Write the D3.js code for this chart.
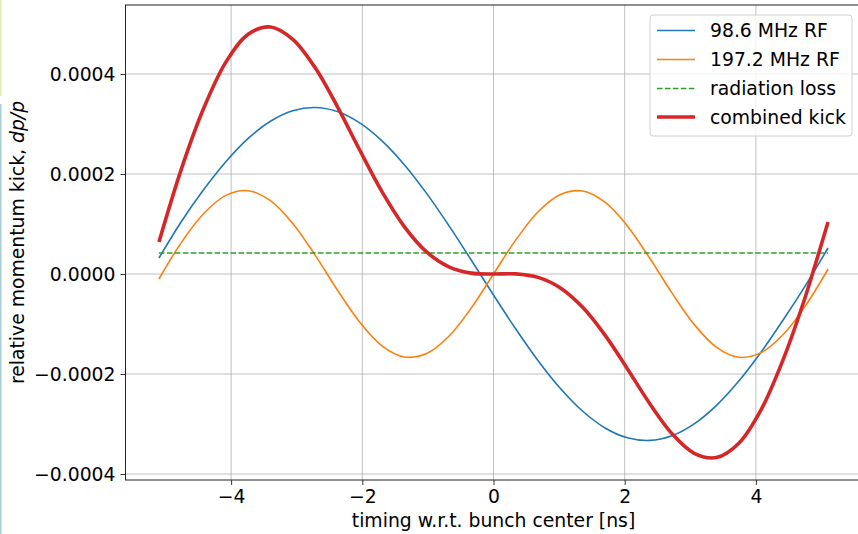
<!DOCTYPE html>
<html><head><meta charset="utf-8">
<script src="https://cdn.jsdelivr.net/npm/d3@7"></script>
<style>body{margin:0;background:#fff}svg{display:block}text{font-family:"DejaVu Sans",sans-serif}</style>
</head><body>
<svg id="c" width="858" height="534"></svg>
<script>
// timing (ns)
const timing = [-5.10,-4.76,-4.42,-4.08,-3.74,-3.40,-3.06,-2.72,-2.38,-2.04,-1.70,-1.36,-1.02,-0.68,-0.34,0.00,0.34,0.68,1.02,1.36,1.70,2.04,2.38,2.72,3.06,3.40,3.74,4.08,4.42,4.76,5.10];
// values in units of 1e-6
const rf98 = [32.0,104.5,168.3,224.5,271.1,305.5,326.4,333.0,324.8,302.2,266.3,218.7,161.3,96.8,28.1,-42.0,-110.1,-173.4,-229.0,-274.5,-307.9,-327.6,-332.8,-323.4,-299.6,-262.6,-214.1,-156.0,-91.1,-22.1,52.0];
const rf197 = [-10.0,62.8,120.6,157.3,166.5,146.6,101.0,37.8,-32.0,-96.2,-143.6,-165.9,-159.2,-124.6,-68.3,0.0,68.3,124.6,159.2,165.9,143.6,96.2,32.0,-37.8,-101.0,-146.6,-166.5,-157.3,-120.6,-62.8,10.0];
const radLoss = [42,42];
const radT = [-5.10,5.10];
const combined = [64.0,209.3,330.9,423.8,479.6,494.1,469.4,412.8,334.8,248.0,164.7,94.8,44.1,14.2,1.8,0.0,0.2,-6.8,-27.8,-66.6,-122.3,-189.4,-258.8,-319.2,-358.6,-367.2,-338.6,-271.3,-169.7,-42.9,104.0];
const xTicks = [-4,-2,0,2,4];
const yTicks = [-0.0004,-0.0002,0.0000,0.0002,0.0004];
const yTickLabels = ["\u22120.0004","\u22120.0002","0.0000","0.0002","0.0004"];
const seriesNames = ["98.6 MHz RF","197.2 MHz RF","radiation loss","combined kick"];
const colors = ["#1f77b4","#ff7f0e","#2ca02c","#d62728"];

const svg = d3.select("#c");
const L=125.5, R=861.5, T=5, B=480;
const FS = "18.8px";
const x = d3.scaleLinear().domain([-5.61,5.61]).range([L,R]);
const y = d3.scaleLinear().domain([-0.000412,0.000538]).range([B,T]);

// left-edge artifacts
svg.append("rect").attr("x",0).attr("y",0).attr("width",1.5).attr("height",96).attr("fill","#dcecb4");
svg.append("rect").attr("x",0).attr("y",104).attr("width",1.5).attr("height",430).attr("fill","#a9cdd1");

// grid
const g = svg.append("g");
g.selectAll(".gx").data(xTicks).join("line").attr("x1",d=>x(d)).attr("x2",d=>x(d)).attr("y1",T).attr("y2",B).attr("stroke","#b0b0b0").attr("stroke-width",0.8);
g.selectAll(".gy").data(yTicks).join("line").attr("y1",d=>y(d)).attr("y2",d=>y(d)).attr("x1",L).attr("x2",R).attr("stroke","#b0b0b0").attr("stroke-width",0.8);

const pts = arr => arr.map((v,i)=>[timing[i], v*1e-6]);
const line = d3.line().x(d=>x(d[0])).y(d=>y(d[1])).curve(d3.curveCatmullRom.alpha(0.5));
const plot = svg.append("g");
plot.append("path").attr("d",line(pts(rf98))).attr("fill","none").attr("stroke",colors[0]).attr("stroke-width",1.6);
plot.append("path").attr("d",line(pts(rf197))).attr("fill","none").attr("stroke",colors[1]).attr("stroke-width",1.6);
plot.append("path").attr("d",d3.line().x(d=>x(d[0])).y(d=>y(d[1]))(radT.map((t,i)=>[t,radLoss[i]*1e-6]))).attr("fill","none").attr("stroke",colors[2]).attr("stroke-width",1.6).attr("stroke-dasharray","5.55,2.4");
plot.append("path").attr("d",line(pts(combined))).attr("fill","none").attr("stroke",colors[3]).attr("stroke-width",3.6);

// axes
const xAxis = d3.axisBottom(x).tickValues(xTicks).tickSize(5).tickPadding(5).tickFormat(d=>d<0?"\u2212"+Math.abs(d):String(d));
const yAxis = d3.axisLeft(y).tickValues(yTicks).tickSize(5).tickPadding(5).tickFormat((d,i)=>yTickLabels[i]);
const ax = svg.append("g").attr("transform",`translate(0,${B})`).call(xAxis);
const ay = svg.append("g").attr("transform",`translate(${L},0)`).call(yAxis);
[ax,ay].forEach(a=>{a.select(".domain").remove();a.selectAll("line").attr("stroke","#000").attr("stroke-width",0.8);a.selectAll("text").attr("fill","#000").style("font-size",FS).style("font-family","DejaVu Sans");});
// spines
svg.append("rect").attr("x",L).attr("y",T).attr("width",R-L).attr("height",B-T).attr("fill","none").attr("stroke","#222").attr("stroke-width",1);

// labels
svg.append("text").attr("x",(L+R)/2).attr("y",527).attr("text-anchor","middle").style("font-size",FS).text("timing w.r.t. bunch center [ns]");
const yl = svg.append("text").attr("transform",`translate(24,${(T+B)/2}) rotate(-90)`).attr("text-anchor","middle").style("font-size",FS);
yl.append("tspan").text("relative momentum kick, ");
yl.append("tspan").style("font-style","italic").text("dp/p");

// legend
const lg = svg.append("g");
lg.append("rect").attr("x",650).attr("y",15).attr("width",202).attr("height",121).attr("rx",3).attr("fill","#fff").attr("fill-opacity",0.8).attr("stroke","#d0d0d0").attr("stroke-width",1);
const rows = [30.5,59.5,88.5,117];
seriesNames.forEach((n,i)=>{
  const l = lg.append("line").attr("x1",657).attr("x2",695).attr("y1",rows[i]).attr("y2",rows[i]).attr("stroke",colors[i]).attr("stroke-width",i===3?3.6:1.6);
  if(i===2) l.attr("stroke-dasharray","5.55,2.4");
  lg.append("text").attr("x",710).attr("y",rows[i]).attr("dy","0.36em").style("font-size",FS).text(n);
});
</script>
</body></html>
